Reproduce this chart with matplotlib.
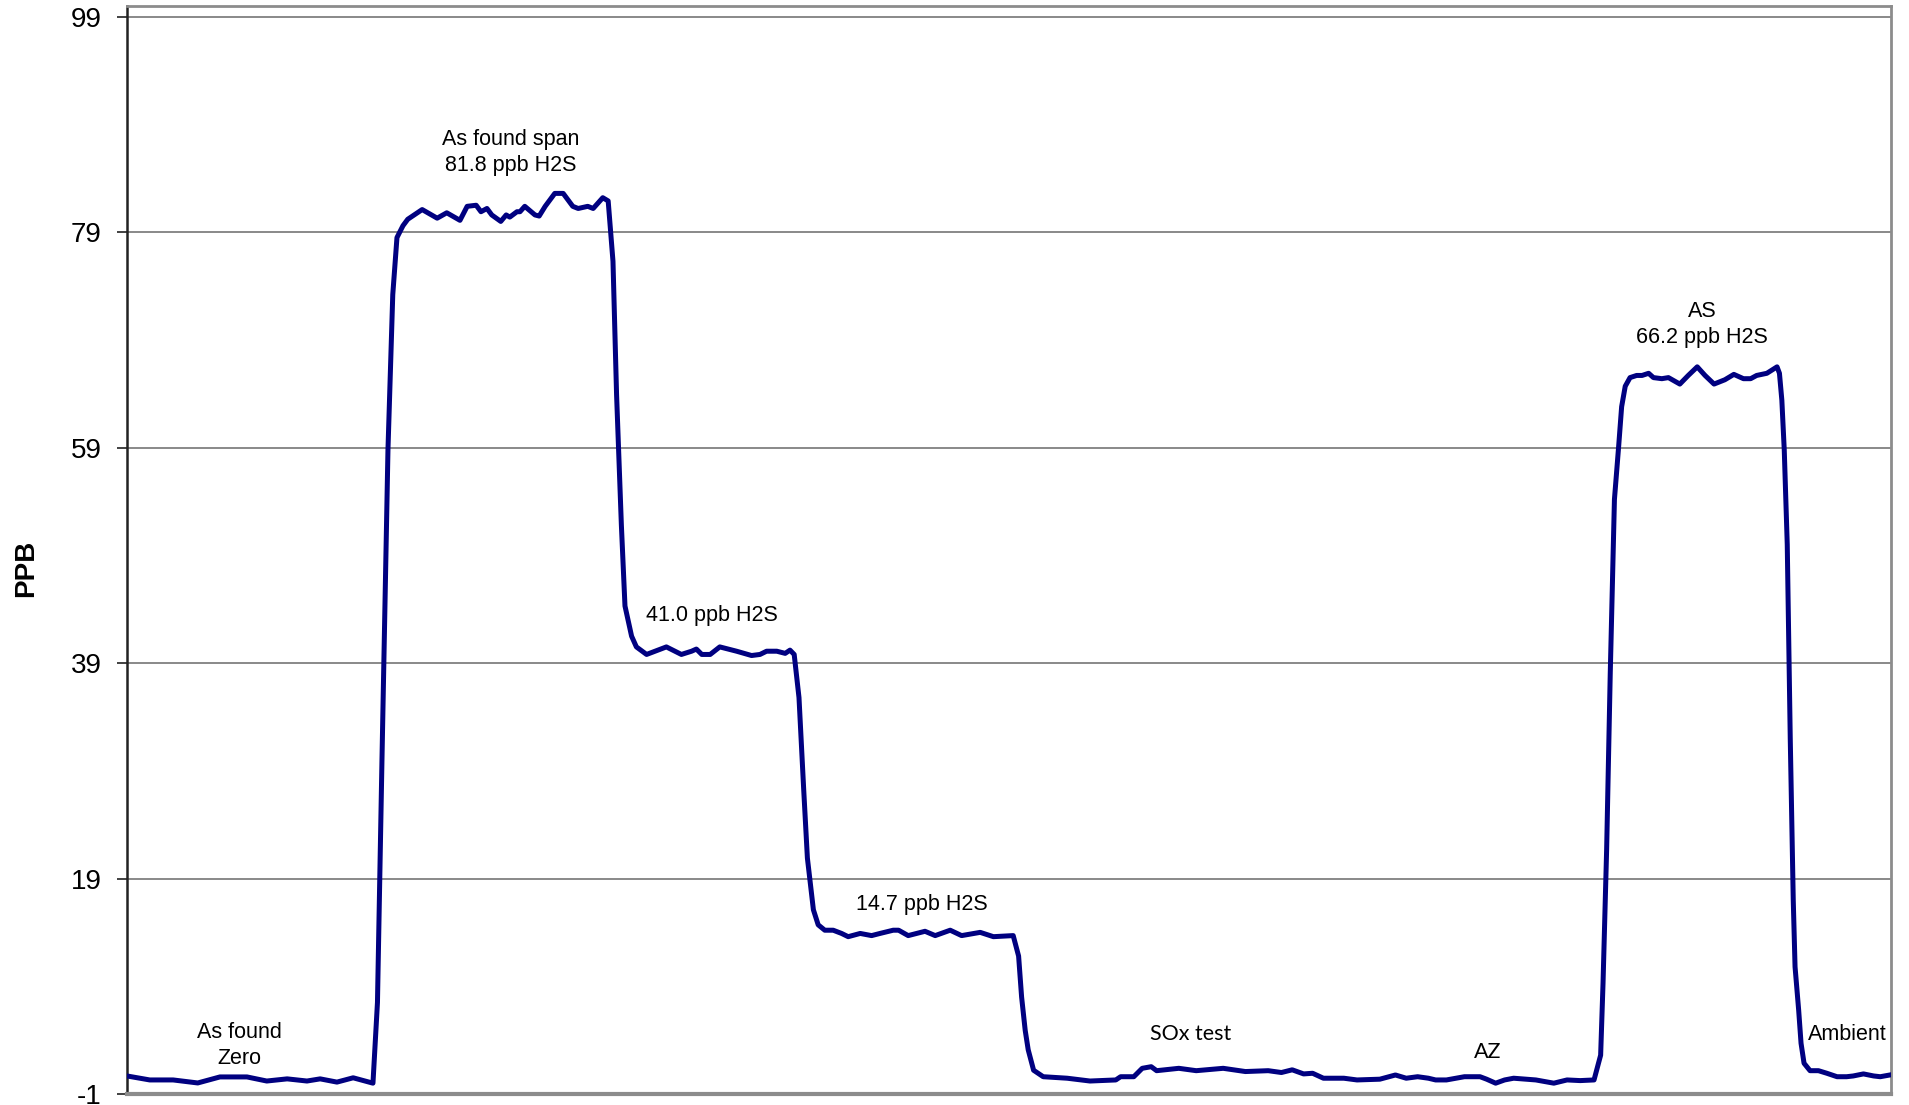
import matplotlib
matplotlib.use("Agg")
from matplotlib import pyplot as plt

# sample index (6 s steps) and H2S reading in ppb
t = [0.0, 3.8, 7.7, 11.8, 15.5, 20.0, 23.3, 26.7, 30.0, 32.2, 35.0, 37.7, 41.0,
     41.75, 42.5, 43.2, 43.5, 44.3, 45.0, 46.0, 46.8, 49.2, 51.7, 53.3, 55.5,
     56.7, 58.2, 59.0, 60.0, 60.8, 62.3, 63.2, 63.8, 65.0, 65.5, 66.3, 68.0,
     68.7, 69.7, 71.3, 72.7, 74.3, 75.2, 76.8, 77.7, 79.3, 80.2,
     81.0, 81.6, 82.4, 83.0, 84.1, 84.9, 86.6, 89.9, 92.4, 94.1, 94.9, 95.8,
     97.2, 98.8, 101.6, 104.1, 105.5, 106.6, 108.3, 109.7, 110.5, 111.2,
     112.0, 112.8, 113.4, 114.4, 115.2, 116.3, 117.7, 119.1, 120.2, 122.2,
     124.1, 125.5, 127.7, 128.6, 130.2, 133.0, 134.7, 137.2, 139.1, 142.2,
     144.4, 147.7, 148.6, 149.1, 149.7, 150.2, 151.1, 152.7,
     156.7, 160.5, 164.8, 165.6, 167.8, 169.2, 170.7, 171.6, 175.3, 178.2, 182.7,
     186.4, 190.2, 192.4, 194.2, 196.1, 197.6, 199.4, 202.8, 205.0, 208.8,
     211.4, 213.2, 215.1, 216.9, 218.1, 219.9, 222.9, 225.5, 226.6, 228.1,
     229.6, 231.1, 234.8, 237.8, 240.0, 242.2, 244.5,
     245.6, 246.0, 246.6, 247.2, 247.9, 248.6, 249.1, 249.7, 250.5, 251.6,
     252.5, 253.6, 254.4, 255.8, 256.9, 258.8, 260.2, 261.7, 263.0, 264.5,
     266.3, 267.8, 269.4, 270.6, 271.6, 273.3, 275.0, 275.4, 275.8, 276.2,
     276.7, 277.2, 277.7, 278.0, 278.6, 279.0, 279.5, 280.5, 281.9, 283.3,
     285.0, 286.6, 287.7, 289.4, 291.1, 292.2, 293.8]
ppb = [0.67, 0.3, 0.3, 0.02, 0.58, 0.58, 0.2, 0.4, 0.2, 0.4, 0.1, 0.5, 0.0,
       7.5, 30.0, 50.0, 58.8, 73.2, 78.5, 79.6, 80.2, 81.1, 80.3, 80.8, 80.1,
       81.4, 81.5, 80.9, 81.2, 80.6, 80.0, 80.6, 80.4, 80.9, 80.9, 81.4, 80.6,
       80.5, 81.4, 82.6, 82.6, 81.4, 81.2, 81.4, 81.2, 82.2, 81.9,
       76.3, 63.9, 51.8, 44.3, 41.5, 40.5, 39.8, 40.5, 39.8, 40.1, 40.3, 39.8,
       39.8, 40.5, 40.1, 39.7, 39.8, 40.1, 40.1, 39.9, 40.2, 39.8,
       35.8, 27.1, 20.9, 16.1, 14.7, 14.2, 14.2, 13.9, 13.6, 13.9,
       13.7, 13.9, 14.2, 14.2, 13.7, 14.1, 13.7, 14.2, 13.7, 14.0,
       13.6, 13.7, 11.8, 8.0, 4.9, 3.1, 1.2, 0.6,
       0.46, 0.2, 0.3, 0.6, 0.6, 1.38, 1.53, 1.16, 1.38, 1.16, 1.38,
       1.08, 1.16, 0.99, 1.24, 0.86, 0.92, 0.46, 0.46, 0.3, 0.37,
       0.76, 0.46, 0.6, 0.46, 0.3, 0.3, 0.6, 0.6, 0.37, 0.0,
       0.3, 0.46, 0.3, 0.0, 0.3, 0.24, 0.3,
       2.6, 9.3, 21.7, 38.0, 54.2, 59.1, 62.8, 64.7, 65.5, 65.7,
       65.7, 65.9, 65.5, 65.4, 65.5, 64.9, 65.7, 66.5, 65.7, 64.9,
       65.3, 65.8, 65.4, 65.4, 65.7, 65.9, 66.5, 65.9, 63.4, 58.8,
       50.0, 32.0, 17.0, 10.8, 6.8, 3.7, 1.85, 1.16, 1.16, 0.92,
       0.6, 0.6, 0.67, 0.86, 0.67, 0.6, 0.76]

y_ticks = [-1, 19, 39, 59, 79, 99]

# (text, x, y, font)
notes = [
    ("As found\nZero", 18.7, 3.5, "Liberation Sans"),
    ("As found span\n81.8 ppb H2S", 64.0, 86.4, "Liberation Sans"),
    ("41.0 ppb H2S", 97.5, 43.4, "Liberation Sans"),
    ("14.7 ppb H2S", 132.4, 16.6, "Liberation Sans"),
    ("SOx test", 177.3, 4.6, "Lato"),
    ("AZ", 226.8, 2.9, "Lato"),
    ("AS\n66.2 ppb H2S", 262.5, 70.4, "Liberation Sans"),
    ("Ambient", 286.7, 4.5, "Liberation Sans"),
]


def main():
  plt.rcParams["font.family"] = ["Liberation Sans", "DejaVu Sans"]
  plt.rcParams["axes.unicode_minus"] = False

  fig = plt.figure(figsize=(19.09, 11.05), dpi=100)
  ax = fig.add_axes([0.0665, 0.0100, 0.9241, 0.9846])

  ax.plot(t, ppb, color="#000080", lw=3.6, solid_joinstyle="round", zorder=3)

  ax.set_xlim(0, 294)
  ax.set_ylim(-1, 100)
  ax.set_yticks(y_ticks)
  ax.set_xticks([])
  ax.yaxis.grid(True, color="#808080", lw=1.3)
  ax.set_axisbelow(True)
  ax.tick_params(axis="y", direction="out", length=7, width=1.3, color="#333333",
                 labelsize=20, pad=11)

  for side in ["top", "right", "bottom"]:
    ax.spines[side].set_color("#8c8c8c")
  ax.spines["top"].set_linewidth(2)
  ax.spines["right"].set_linewidth(2)
  ax.spines["bottom"].set_linewidth(3)
  ax.spines["left"].set_color("#222222")
  ax.spines["left"].set_linewidth(1.8)

  ax.set_ylabel("PPB", fontsize=20, fontweight="bold")
  ax.yaxis.set_label_coords(-0.050, 0.4835)

  for text, x, y, fam in notes:
    size = 15.5
    ax.text(x, y, text, ha="center", va="center", fontsize=size,
            family=[fam, "DejaVu Sans"], linespacing=1.3, zorder=4)

  fig.savefig("out.png", dpi=100)


if __name__ == "__main__":
  main()
